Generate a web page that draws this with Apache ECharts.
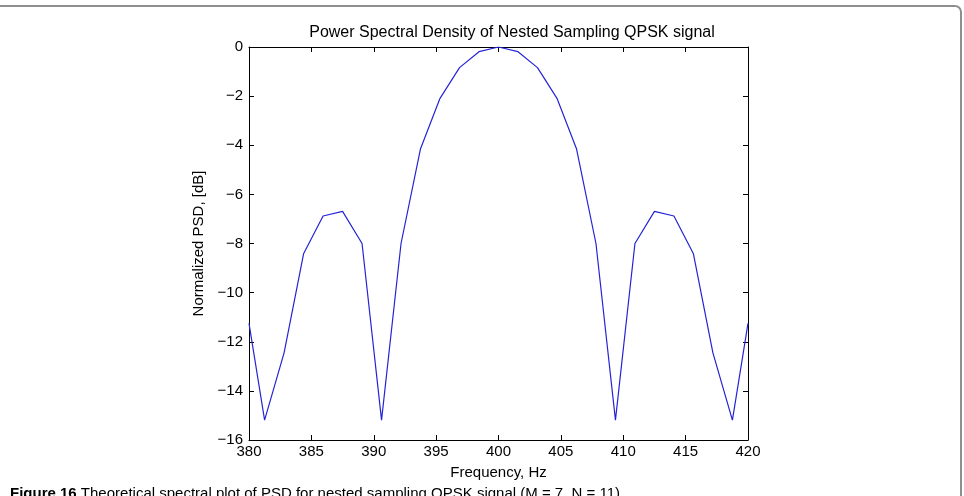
<!DOCTYPE html>
<html>
<head>
<meta charset="utf-8">
<script src="https://cdn.jsdelivr.net/npm/echarts@6/dist/echarts.min.js"></script>
<style>
  html, body { margin: 0; padding: 0; background: #fff; }
  #chart { width: 964px; height: 496px; }
</style>
</head>
<body>
<div id="chart"></div>
<script>
// frequency samples (Hz) and normalized PSD (dB)
const freqs = [380, 381.25, 382.8125, 384.375, 385.9375, 387.5, 389.0625, 390.625,
  392.1875, 393.75, 395.3125, 396.875, 398.4375, 400, 401.5625, 403.125, 404.6875,
  406.25, 407.8125, 409.375, 410.9375, 412.5, 414.0625, 415.625, 417.1875, 418.75, 420];
const psd = [-11.25, -15.19, -12.45, -8.42, -6.88, -6.69, -8.0, -15.19,
  -8.0, -4.14, -2.09, -0.84, -0.19, 0, -0.19, -0.84, -2.09,
  -4.14, -8.0, -15.19, -8.0, -6.69, -6.88, -8.42, -12.45, -15.19, -11.25];
const xTicks = [380, 385, 390, 395, 400, 405, 410, 415, 420];
const yTicks = [0, -2, -4, -6, -8, -10, -12, -14, -16];

const font = '"Liberation Sans", Arial, sans-serif';
const chart = echarts.init(document.getElementById('chart'));

const axisCommon = {
  axisLine: { show: true, onZero: false, lineStyle: { color: '#000', width: 1 } },
  axisTick: { show: true, inside: true, length: 5, lineStyle: { color: '#000' } },
  splitLine: { show: false }
};

chart.setOption({
  animation: false,
  backgroundColor: '#fff',
  title: {
    text: 'Power Spectral Density of Nested Sampling QPSK signal',
    left: 507, top: 20, textAlign: 'center',
    textStyle: { fontFamily: font, fontSize: 16, fontWeight: 'normal', color: '#000' }
  },
  grid: { left: 249, right: 216, top: 47, bottom: 56 },
  xAxis: [
    Object.assign({
      type: 'value', min: xTicks[0], max: xTicks[xTicks.length - 1], interval: 5,
      name: 'Frequency, Hz', nameLocation: 'middle', nameGap: 25,
      nameTextStyle: { fontFamily: font, fontSize: 15, color: '#000' },
      axisLabel: { fontFamily: font, fontSize: 15, color: '#000', margin: 4 }
    }, axisCommon),
    Object.assign({
      type: 'value', position: 'top', min: xTicks[0], max: xTicks[xTicks.length - 1], interval: 5,
      axisLabel: { show: false }
    }, axisCommon)
  ],
  yAxis: [
    Object.assign({
      type: 'value', min: yTicks[yTicks.length - 1], max: yTicks[0], interval: 2,
      name: 'Normalized PSD, [dB]', nameLocation: 'middle', nameGap: 36, nameRotate: 90,
      nameTextStyle: { fontFamily: font, fontSize: 15, color: '#000' },
      axisLabel: {
        fontFamily: font, fontSize: 15, color: '#000', margin: 6,
        formatter: v => String(v).replace('-', '\u2212')
      }
    }, axisCommon),
    Object.assign({
      type: 'value', position: 'right', min: yTicks[yTicks.length - 1], max: yTicks[0], interval: 2,
      axisLabel: { show: false }
    }, axisCommon)
  ],
  series: [{
    type: 'line',
    data: freqs.map((f, i) => [f, psd[i]]),
    symbol: 'none',
    lineStyle: { color: '#2424d6', width: 1.2 },
    clip: true
  }],
  graphic: [
    {
      type: 'rect', silent: true,
      shape: { x: -20, y: 6, width: 981, height: 600, r: 6 },
      style: { fill: 'none', stroke: '#8e8e8e', lineWidth: 2 }
    },
    {
      type: 'text', left: 10, top: 486, silent: true,
      style: {
        text: '{b|Figure 16} Theoretical spectral plot of PSD for nested sampling QPSK signal (M = 7, N = 11).',
        font: '15px ' + font, fill: '#000',
        rich: { b: { fontWeight: 'bold', fontFamily: font, fontSize: 15 } }
      }
    }
  ]
});
</script>
</body>
</html>
